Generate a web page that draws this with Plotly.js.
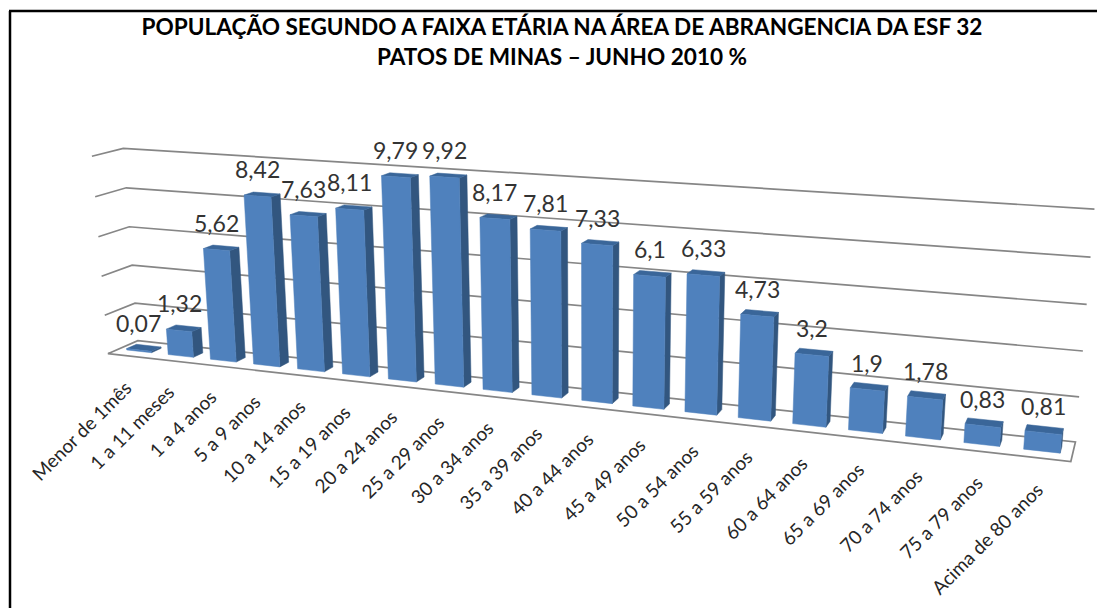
<!DOCTYPE html>
<html><head><meta charset="utf-8">
<script src="https://cdn.plot.ly/plotly-3.0.1.min.js"></script>
<style>html,body{margin:0;padding:0;background:#fff;overflow:hidden}#chart{width:1097px;height:608px}</style>
</head><body><div id="chart"></div>
<script>
const categories = ["Menor de 1mês","1 a 11 meses","1 a 4 anos","5 a 9 anos","10 a 14 anos","15 a 19 anos","20 a 24 anos","25 a 29 anos","30 a 34 anos","35 a 39 anos","40 a 44 anos","45 a 49 anos","50 a 54 anos","55 a 59 anos","60 a 64 anos","65 a 69 anos","70 a 74 anos","75 a 79 anos","Acima de 80 anos"];
const values = [0.07,1.32,5.62,8.42,7.63,8.11,9.79,9.92,8.17,7.81,7.33,6.1,6.33,4.73,3.2,1.9,1.78,0.83,0.81];
const gridValues = [2,4,6,8,10];
const titleLines = ["POPULAÇÃO SEGUNDO A FAIXA ETÁRIA NA ÁREA DE ABRANGENCIA DA ESF 32","PATOS DE MINAS – JUNHO 2010 %"];

// Perspective camera of the 3-D box: [category position, depth, value] -> page position
const n = categories.length;
const barLo = 0.2, barHi = 0.8, depthFront = 0.35, depthBack = 0.68;
const anchors = [
 [0,0,0,108,353],[0,1,0,137,341],[n,0,0,1071,461],[n,1,0,1075,442],
 [0,1,2,135,303],[0,1,4,132,265],[0,1,6,130,226],[0,1,8,127,188],[0,1,10,123,148],
 [n,1,2,1079,397],[n,1,4,1083,351],[n,1,6,1087,304],[n,1,8,1090,258],[n,1,10,1095,209],
 [0,0,2,105,315],[0,0,4,102,276],[0,0,6,98,237],[0,0,8,95,198],[0,0,10,92,155],
 [7.2,depthFront,0,436,385],[7.8,depthFront,0,463,387],[7.2,depthFront,9.92,430,177],[7.8,depthFront,9.92,458,178],
 [1.2,depthFront,0,168,355],[12.2,depthFront,0,685,413],[12.8,depthFront,0,717,415],
 [18.2,depthFront,0,1024,449],[18.8,depthFront,0,1060,452]
];
function solveCamera(pts){
  const A=[],b=[];
  pts.forEach(p=>{
    const X=p[0]/10,Y=p[1],Z=p[2]/10,u=p[3]/1000,v=p[4]/1000;
    A.push([X,Y,Z,1,0,0,0,0,-u*X,-u*Y,-u*Z]);b.push(u);
    A.push([0,0,0,0,X,Y,Z,1,-v*X,-v*Y,-v*Z]);b.push(v);
  });
  const m=11,N=[];
  for(let i=0;i<m;i++){const r=new Array(m+1).fill(0);
    for(let k=0;k<A.length;k++){for(let j=0;j<m;j++)r[j]+=A[k][i]*A[k][j];r[m]+=A[k][i]*b[k];}
    N.push(r);}
  for(let c=0;c<m;c++){let best=c;for(let r=c+1;r<m;r++)if(Math.abs(N[r][c])>Math.abs(N[best][c]))best=r;
    [N[c],N[best]]=[N[best],N[c]];
    for(let r=0;r<m;r++){if(r===c)continue;const f=N[r][c]/N[c][c];for(let j=c;j<=m;j++)N[r][j]-=f*N[c][j];}}
  return N.map((r,i)=>r[m]/r[i]);
}
const cam = solveCamera(anchors);
function proj(x,d,z){
  const X=x/10,Y=d,Z=z/10,w=cam[8]*X+cam[9]*Y+cam[10]*Z+1;
  return [1000*(cam[0]*X+cam[1]*Y+cam[2]*Z+cam[3])/w,1000*(cam[4]*X+cam[5]*Y+cam[6]*Z+cam[7])/w];
}

function polys(faceFn){
  const xs=[],ys=[];
  values.forEach((v,i)=>{
    faceFn(i,v).forEach(c=>{const p=proj(c[0],c[1],c[2]);xs.push(p[0]);ys.push(p[1]);});
    xs.push(null);ys.push(null);
  });
  return {xs,ys};
}
const front=polys((i,v)=>[[i+barLo,depthFront,0],[i+barHi,depthFront,0],[i+barHi,depthFront,v],[i+barLo,depthFront,v],[i+barLo,depthFront,0]]);
const side=polys((i,v)=>[[i+barHi,depthFront,0],[i+barHi,depthBack,0],[i+barHi,depthBack,v],[i+barHi,depthFront,v],[i+barHi,depthFront,0]]);
const top_=polys((i,v)=>[[i+barLo,depthFront,v],[i+barHi,depthFront,v],[i+barHi,depthBack,v],[i+barLo,depthBack,v],[i+barLo,depthFront,v]]);

function face(p,color,name){return {type:"scatter",mode:"lines",x:p.xs,y:p.ys,fill:"toself",fillcolor:color,line:{color:color,width:0.5},hoverinfo:"skip",name:name,connectgaps:false};}

const gx=[],gy=[];
gridValues.forEach(z=>{
  [[0,0,z],[0,1,z],[n,1,z]].forEach(c=>{const p=proj(...c);gx.push(p[0]);gy.push(p[1]);});
  gx.push(null);gy.push(null);
});
[[0,0,0],[0,1,0],[n,1,0],[n,0,0],[0,0,0]].forEach(c=>{const p=proj(...c);gx.push(p[0]);gy.push(p[1]);});

const grid={type:"scatter",mode:"lines",x:gx,y:gy,line:{color:"#868686",width:1.7},hoverinfo:"skip",name:"grade"};

const annotations=[];
values.forEach((v,i)=>{
  const t=proj(i+0.5,depthFront,v);
  annotations.push({x:t[0],y:t[1],xref:"x",yref:"y",text:String(v).replace(".",","),showarrow:false,xanchor:"center",yanchor:"middle",xshift:0,yshift:27,font:{family:"Lato",size:23,color:"#333333"}});
  const b=proj(i+0.5,0,0);
  annotations.push({x:b[0],y:b[1],xref:"x",yref:"y",text:categories[i],showarrow:false,textangle:-45,xanchor:"right",yanchor:"top",xshift:10,yshift:-17,font:{family:"Lato",size:19,color:"#262626"}});
});

const layout={
  width:1097,height:608,margin:{l:0,r:0,t:0,b:0},paper_bgcolor:"#fff",plot_bgcolor:"#fff",showlegend:false,
  xaxis:{range:[0,1097],visible:false,fixedrange:true},
  yaxis:{range:[608,0],visible:false,fixedrange:true},
  title:{text:titleLines.map(s=>'<span style="font-size:22.6px"><b>'+s+'</b></span>').join("<br>"),font:{family:"Lato",size:23,color:"#000"},x:562/1097,xanchor:"center",y:1-35/608,yanchor:"middle"},
  shapes:[
    {type:"line",xref:"paper",yref:"paper",x0:10/1097,x1:10/1097,y0:0,y1:1-11/608,line:{color:"#000",width:2.5}},
    {type:"line",xref:"paper",yref:"paper",x0:9/1097,x1:1,y0:1-11/608,y1:1-11/608,line:{color:"#000",width:2.5}}
  ],
  annotations
};
Plotly.newPlot("chart",[grid,face(side,"#32567F","lateral"),face(top_,"#3A6699","topo"),face(front,"#4F81BD","população")],layout,{displayModeBar:false,responsive:false});
</script></body></html>
